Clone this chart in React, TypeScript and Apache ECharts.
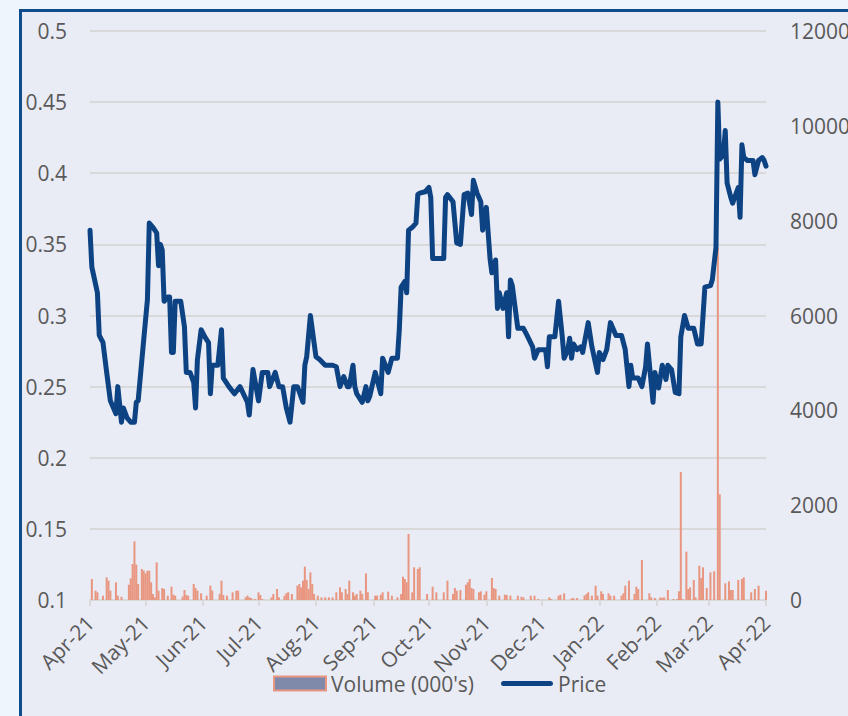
import React, { useEffect, useRef } from 'react';
import * as echarts from 'echarts';

const priceDates = [
  '2021-04-01','2021-04-02','2021-04-05','2021-04-06','2021-04-08','2021-04-10','2021-04-12','2021-04-15','2021-04-16','2021-04-18',
  '2021-04-19','2021-04-21','2021-04-23','2021-04-25','2021-04-26','2021-04-27','2021-04-30','2021-05-02','2021-05-03','2021-05-05',
  '2021-05-07','2021-05-08','2021-05-09','2021-05-10','2021-05-11','2021-05-13','2021-05-14','2021-05-15','2021-05-16','2021-05-17',
  '2021-05-20','2021-05-22','2021-05-23','2021-05-25','2021-05-27','2021-05-28','2021-05-29','2021-05-31','2021-06-02','2021-06-04',
  '2021-06-05','2021-06-06','2021-06-09','2021-06-11','2021-06-12','2021-06-15','2021-06-18','2021-06-21','2021-06-25','2021-06-26',
  '2021-06-28','2021-07-01','2021-07-03','2021-07-06','2021-07-07','2021-07-10','2021-07-12','2021-07-14','2021-07-16','2021-07-18',
  '2021-07-20','2021-07-22','2021-07-25','2021-07-26','2021-07-27','2021-07-29','2021-08-01','2021-08-03','2021-08-06','2021-08-10',
  '2021-08-12','2021-08-14','2021-08-16','2021-08-18','2021-08-19','2021-08-21','2021-08-22','2021-08-23','2021-08-26','2021-08-28',
  '2021-08-29','2021-08-30','2021-09-02','2021-09-05','2021-09-06','2021-09-09','2021-09-11','2021-09-14','2021-09-15','2021-09-16',
  '2021-09-18','2021-09-19','2021-09-20','2021-09-22','2021-09-24','2021-09-25','2021-09-26','2021-09-29','2021-10-01','2021-10-02',
  '2021-10-03','2021-10-05','2021-10-09','2021-10-10','2021-10-11','2021-10-14','2021-10-16','2021-10-18','2021-10-20','2021-10-22',
  '2021-10-24','2021-10-25','2021-10-27','2021-10-29','2021-10-30','2021-11-01','2021-11-03','2021-11-04','2021-11-06','2021-11-07',
  '2021-11-08','2021-11-10','2021-11-12','2021-11-13','2021-11-14','2021-11-15','2021-11-18','2021-11-21','2021-11-23','2021-11-26',
  '2021-11-27','2021-11-29','2021-12-03','2021-12-04','2021-12-05','2021-12-08','2021-12-10','2021-12-12','2021-12-13','2021-12-15',
  '2021-12-16','2021-12-17','2021-12-18','2021-12-20','2021-12-22','2021-12-23','2021-12-26','2021-12-28','2021-12-31','2022-01-01',
  '2022-01-03','2022-01-05','2022-01-07','2022-01-10','2022-01-13','2022-01-15','2022-01-17','2022-01-18','2022-01-19','2022-01-22',
  '2022-01-24','2022-01-26','2022-01-27','2022-01-30','2022-01-31','2022-02-02','2022-02-04','2022-02-06','2022-02-07','2022-02-09',
  '2022-02-11','2022-02-13','2022-02-14','2022-02-16','2022-02-18','2022-02-21','2022-02-23','2022-02-25','2022-02-27','2022-03-02',
  '2022-03-03','2022-03-05','2022-03-06','2022-03-07','2022-03-09','2022-03-10','2022-03-11','2022-03-13','2022-03-14','2022-03-17',
  '2022-03-18','2022-03-19','2022-03-20','2022-03-22','2022-03-25','2022-03-26','2022-03-28','2022-03-30','2022-03-31','2022-04-01'
];
const priceValues = [
  0.36,0.334,0.316,0.286,0.281,0.26,0.24,0.231,0.25,0.225,
  0.235,0.228,0.225,0.225,0.239,0.24,0.283,0.311,0.365,0.362,
  0.358,0.335,0.35,0.346,0.31,0.313,0.313,0.274,0.274,0.31,
  0.31,0.292,0.26,0.26,0.253,0.235,0.269,0.29,0.285,0.281,
  0.245,0.265,0.265,0.29,0.256,0.25,0.245,0.25,0.239,0.23,
  0.262,0.24,0.26,0.26,0.25,0.26,0.25,0.25,0.235,0.225,
  0.25,0.25,0.239,0.265,0.271,0.3,0.271,0.269,0.265,0.265,
  0.264,0.25,0.257,0.25,0.25,0.265,0.25,0.245,0.239,0.25,
  0.24,0.243,0.26,0.245,0.27,0.26,0.27,0.27,0.29,0.32,
  0.324,0.316,0.36,0.362,0.365,0.385,0.386,0.387,0.39,0.383,
  0.34,0.34,0.34,0.383,0.385,0.38,0.351,0.35,0.385,0.386,
  0.371,0.395,0.386,0.38,0.36,0.376,0.34,0.33,0.339,0.305,
  0.316,0.305,0.316,0.285,0.325,0.321,0.291,0.291,0.286,0.278,
  0.27,0.276,0.276,0.264,0.285,0.285,0.31,0.285,0.27,0.276,
  0.284,0.27,0.28,0.276,0.278,0.274,0.295,0.278,0.26,0.274,
  0.269,0.276,0.295,0.286,0.286,0.276,0.25,0.265,0.256,0.256,
  0.25,0.264,0.28,0.239,0.26,0.249,0.265,0.255,0.265,0.262,
  0.246,0.245,0.285,0.3,0.291,0.291,0.28,0.28,0.32,0.321,
  0.325,0.348,0.45,0.41,0.413,0.43,0.393,0.383,0.379,0.39,
  0.369,0.42,0.411,0.409,0.409,0.399,0.409,0.411,0.409,0.405
];

const volumeDates = [
  '2021-04-02','2021-04-04','2021-04-05','2021-04-08','2021-04-10','2021-04-11','2021-04-12','2021-04-15','2021-04-16','2021-04-18',
  '2021-04-22','2021-04-23','2021-04-24','2021-04-25','2021-04-26','2021-04-27','2021-04-29','2021-04-30','2021-05-01','2021-05-02',
  '2021-05-03','2021-05-04','2021-05-05','2021-05-06','2021-05-07','2021-05-08','2021-05-10','2021-05-11','2021-05-13','2021-05-15',
  '2021-05-16','2021-05-17','2021-05-21','2021-05-22','2021-05-23','2021-05-24','2021-05-27','2021-05-28','2021-05-29','2021-05-31',
  '2021-06-03','2021-06-05','2021-06-06','2021-06-10','2021-06-11','2021-06-12','2021-06-14','2021-06-17','2021-06-19','2021-06-20',
  '2021-06-24','2021-06-25','2021-06-26','2021-06-27','2021-06-29','2021-07-01','2021-07-02','2021-07-03','2021-07-08','2021-07-09',
  '2021-07-11','2021-07-12','2021-07-15','2021-07-16','2021-07-17','2021-07-19','2021-07-22','2021-07-23','2021-07-24','2021-07-25',
  '2021-07-26','2021-07-27','2021-07-28','2021-07-29','2021-07-30','2021-07-31','2021-08-02','2021-08-04','2021-08-06','2021-08-08',
  '2021-08-10','2021-08-12','2021-08-14','2021-08-15','2021-08-17','2021-08-18','2021-08-19','2021-08-21','2021-08-22','2021-08-23',
  '2021-08-25','2021-08-26','2021-08-28','2021-08-29','2021-09-02','2021-09-03','2021-09-05','2021-09-06','2021-09-09','2021-09-11',
  '2021-09-14','2021-09-16','2021-09-17','2021-09-18','2021-09-19','2021-09-20','2021-09-22','2021-09-23','2021-09-25','2021-09-26',
  '2021-09-30','2021-10-03','2021-10-05','2021-10-09','2021-10-11','2021-10-14','2021-10-15','2021-10-16','2021-10-18','2021-10-21',
  '2021-10-22','2021-10-23','2021-10-24','2021-10-25','2021-10-28','2021-10-29','2021-10-31','2021-11-01','2021-11-04','2021-11-05',
  '2021-11-06','2021-11-08','2021-11-11','2021-11-12','2021-11-14','2021-11-18','2021-11-20','2021-11-21','2021-11-25','2021-11-27',
  '2021-11-29','2021-12-05','2021-12-06','2021-12-10','2021-12-11','2021-12-13','2021-12-17','2021-12-18','2021-12-20','2021-12-24',
  '2021-12-25','2021-12-26','2021-12-28','2021-12-30','2021-12-31','2022-01-02','2022-01-03','2022-01-06','2022-01-07','2022-01-09',
  '2022-01-13','2022-01-14','2022-01-15','2022-01-17','2022-01-20','2022-01-21','2022-01-22','2022-01-24','2022-01-28','2022-01-29',
  '2022-01-31','2022-02-03','2022-02-04','2022-02-05','2022-02-07','2022-02-10','2022-02-12','2022-02-13','2022-02-14','2022-02-15',
  '2022-02-17','2022-02-18','2022-02-19','2022-02-21','2022-02-22','2022-02-24','2022-02-25','2022-02-26','2022-02-28','2022-03-02',
  '2022-03-04','2022-03-06','2022-03-07','2022-03-10','2022-03-12','2022-03-13','2022-03-14','2022-03-17','2022-03-19','2022-03-20',
  '2022-03-24','2022-03-26','2022-03-28','2022-04-01'
];
const volumeValues = [
  443,197,162,91,478,408,197,373,91,70,
  323,457,759,1237,745,337,654,619,562,619,
  619,373,127,56,794,197,253,232,91,281,
  112,91,70,211,105,91,337,253,197,141,
  91,302,197,127,408,105,91,162,197,197,
  56,91,56,42,21,162,105,21,56,127,
  232,56,91,141,162,127,302,337,267,408,
  703,422,232,583,337,127,91,56,56,56,
  56,162,267,162,232,127,408,162,91,127,
  197,127,562,162,91,91,112,162,176,91,
  56,127,492,443,373,1392,162,689,654,689,
  127,281,162,162,408,127,253,197,211,323,
  373,443,253,232,162,183,112,183,464,253,
  232,91,112,105,91,91,70,56,91,91,
  21,56,21,91,112,141,35,42,42,91,
  127,162,91,302,91,183,127,141,91,91,
  91,141,302,408,127,281,232,843,141,56,
  42,56,42,56,211,21,21,183,2700,21,
  1020,232,267,422,56,724,464,689,253,583,
  604,7430,2230,352,394,211,211,422,443,478,
  162,232,302,197
];

const xStart = '2021-04-01';
const xEnd = '2022-04-01';
const monthNames = ['Jan','Feb','Mar','Apr','May','Jun','Jul','Aug','Sep','Oct','Nov','Dec'];
const DAY = 24 * 3600 * 1000;
const FONT = 'Open Sans';
const FS = 21;
const PRICE_COLOR = '#0d4383';
const VOL_COLOR = '#e99680';

export default function App() {
  const ref = useRef<HTMLDivElement>(null);
  useEffect(() => {
    document.body.style.margin = '0';
    const chart = echarts.init(ref.current!, null, { renderer: 'svg' });
    const ts = (s: string) => +echarts.time.parse(s);
    chart.setOption({
      animation: false,
      textStyle: { fontFamily: FONT },
      grid: { left: 90, right: 82, top: 31, bottom: 116, containLabel: false, outerBoundsMode: 'none' },
      legend: {
        left: 273,
        top: 673,
        padding: 0,
        itemWidth: 52,
        itemHeight: 14,
        itemGap: 27,
        textStyle: { color: '#595959', fontSize: FS, fontFamily: FONT },
        data: [
          { name: "Volume (000's)", icon: 'rect', itemStyle: { color: '#7f89aa', borderColor: VOL_COLOR, borderWidth: 2 } },
          {
            name: 'Price',
            icon: 'path://M0 0L0.01 0M2.5 4.5H49.5A2.5 2.5 0 0 1 49.5 9.5H2.5A2.5 2.5 0 0 1 2.5 4.5ZM52 14L51.99 14',
            itemStyle: { color: PRICE_COLOR, borderWidth: 0 }
          }
        ]
      },
      xAxis: [
        {
          type: 'time',
          min: xStart,
          max: xEnd,
          splitNumber: 12,
          minInterval: 28 * DAY,
          maxInterval: 31 * DAY,
          axisLine: { lineStyle: { color: '#d9d9d9', width: 2 } },
          axisTick: { show: true, length: 6, lineStyle: { color: '#d9d9d9', width: 2 } },
          splitLine: { show: false },
          axisLabel: {
            rotate: 45,
            fontSize: FS,
            color: '#595959',
            margin: 19,
            hideOverlap: false,
            showMinLabel: true,
            showMaxLabel: true,
            fontFamily: FONT,
            formatter: (v: number) => {
              const d = new Date(v);
              return monthNames[d.getMonth()] + '-' + String(d.getFullYear()).slice(2);
            }
          }
        },
        {
          type: 'value',
          min: ts(xStart),
          max: ts(xEnd),
          show: false,
          splitLine: { show: false }
        }
      ],
      yAxis: [
        {
          type: 'value',
          min: 0.1,
          max: 0.5,
          interval: 0.05,
          position: 'left',
          axisLine: { show: false },
          axisTick: { show: false },
          splitLine: { lineStyle: { color: '#d9d9d9', width: 2 } },
          axisLabel: {
            fontSize: FS,
            color: '#595959',
            margin: 23,
            fontFamily: FONT,
            formatter: (v: number) => String(parseFloat(v.toFixed(2)))
          }
        },
        {
          type: 'value',
          min: 0,
          max: 12000,
          interval: 2000,
          position: 'right',
          axisLine: { show: false },
          axisTick: { show: false },
          splitLine: { show: false },
          axisLabel: { fontSize: FS, color: '#595959', margin: 24, fontFamily: FONT, formatter: (v: number) => String(v) }
        }
      ],
      series: [
        {
          name: "Volume (000's)",
          type: 'bar',
          xAxisIndex: 1,
          yAxisIndex: 1,
          barWidth: 2,
          itemStyle: { color: VOL_COLOR },
          data: volumeDates.map((d, i) => [ts(d), volumeValues[i]])
        },
        {
          name: 'Price',
          type: 'line',
          xAxisIndex: 0,
          yAxisIndex: 0,
          symbol: 'none',
          showSymbol: false,
          z: 3,
          lineStyle: { color: PRICE_COLOR, width: 5, cap: 'round', join: 'round' },
          itemStyle: { color: PRICE_COLOR },
          data: priceDates.map((d, i) => [d, priceValues[i]])
        }
      ]
    });
    return () => chart.dispose();
  }, []);
  return (
    <div style={{ position: 'relative', width: 848, height: 716, background: '#eef5fd', overflow: 'hidden' }}>
      <div style={{ position: 'absolute', left: 19, top: 9, width: 840, height: 720, border: '3px solid #0f4c8c', background: '#e9ebf5' }} />
      <div ref={ref} style={{ position: 'absolute', left: 0, top: 0, width: 848, height: 716 }} />
    </div>
  );
}
